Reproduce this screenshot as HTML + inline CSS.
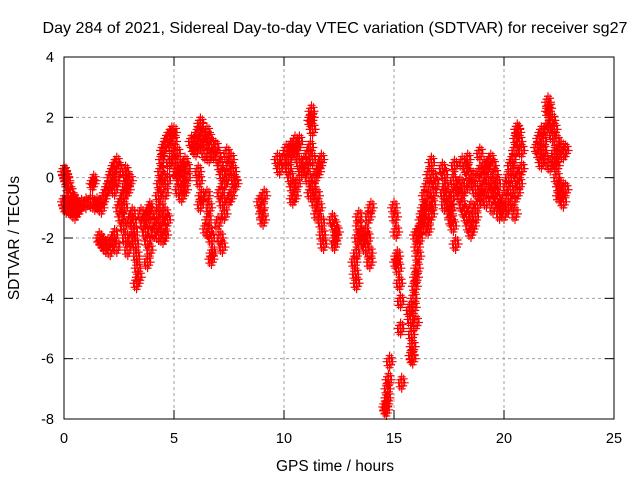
<!DOCTYPE html>
<html><head><meta charset="utf-8"><style>
body{margin:0;background:#fff}
svg{display:block;font-family:"Liberation Sans",sans-serif}
</style></head><body>
<svg id="c" width="640" height="480">
<text x="335" y="33" font-size="16" text-anchor="middle" textLength="585" lengthAdjust="spacingAndGlyphs">Day 284 of 2021, Sidereal Day-to-day VTEC variation (SDTVAR) for receiver sg27</text>
<text x="335" y="471" font-size="15.5" text-anchor="middle">GPS time / hours</text>
<text x="19" y="238" font-size="15.5" text-anchor="middle" transform="rotate(-90 19 238)">SDTVAR / TECUs</text>
<g id="grid"></g>
<g id="ticks"></g>
<g id="pts"></g>
<rect x="64" y="57" width="550" height="362" fill="none" stroke="#000" stroke-width="1"/>
</svg>
<script>
const xTicks=[0,5,10,15,20,25];
const yTicks=[4,2,0,-2,-4,-6,-8];
const hours=[0,0.05,0.1,0.15,0.2,0.3,0.4,0.5,0.6,0.7,0.8,1.0,1.2,1.4,0,0.05,0.1,0.2,0.3,0.4,0.5,0.6,0.7,1.5,1.6,1.7,1.3,1.35,
1.8,1.9,2.0,2.1,2.2,2.3,2.4,2.2,2.3,2.4,2.5,1.6,1.7,1.8,1.9,2.0,2.1,2.2,2.3,2.4,
2.5,2.6,2.7,2.8,2.9,3.0,2.6,2.7,2.8,2.9,2.75,2.8,2.85,2.9,
3.1,3.15,3.2,3.25,3.3,3.35,3.4,3.3,3.0,3.05,
3.5,3.6,3.7,3.8,3.9,3.75,3.85,3.9,3.8,
4.0,4.1,4.2,4.3,4.4,4.5,4.6,4.4,4.2,4.3,4.35,4.4,4.45,4.5,4.6,4.7,4.8,4.9,4.5,4.6,4.7,4.8,4.9,5.0,5.0,4.7,4.6,4.5,
5.1,5.2,5.3,5.4,5.5,5.6,5.2,5.35,5.5,5.6,5.0,5.15,5.3,5.45,
5.8,5.9,6.0,6.1,6.2,6.3,6.4,6.5,6.6,6.7,6.8,6.9,6.0,6.2,6.4,6.6,6.2,6.1,6.15,6.25,6.5,6.6,6.55,6.6,6.7,6.75,6.7,6.2,6.45,
7.0,7.1,7.2,7.3,7.4,7.5,7.6,7.7,7.8,7.1,7.2,7.3,7.0,7.1,7.2,7.6,7.5,7.75,7.4,
8.9,9.0,9.05,9.1,9.0,
9.7,9.8,10.0,10.1,10.2,10.3,10.4,10.5,10.2,10.4,10.5,10.6,10.3,10.7,10.8,10.6,10.4,10.5,10.7,
10.9,11.0,11.1,11.2,11.3,11.1,11.2,11.3,11.4,11.5,11.6,11.7,11.75,11.8,11.25,11.2,11.3,11.25,11.4,11.5,11.6,11.7,11.55,
12.2,12.3,12.35,12.3,12.4,
13.2,13.25,13.3,13.35,13.4,13.4,13.5,13.6,13.7,13.8,13.7,13.9,13.9,13.85,13.95,13.3,
14.6,14.65,14.7,14.7,14.75,14.8,14.65,
15.0,15.05,15.1,15.15,15.2,15.25,15.3,15.3,15.35,15.1,
15.7,15.75,15.8,15.85,15.9,15.95,16.0,16.05,16.1,16.15,16.2,16.25,16.3,16.35,15.8,15.9,16.0,16.05,16.1,16.0,15.85,
16.4,16.5,16.6,16.6,16.7,16.5,16.8,16.9,16.7,16.4,16.55,16.8,16.75,
17.2,17.3,17.35,17.4,17.5,17.55,17.6,17.7,17.25,17.3,17.6,17.7,17.8,17.75,17.7,
17.9,18.0,18.1,18.2,18.3,18.4,18.5,18.6,18.5,18.7,18.8,18.9,18.4,18.3,18.1,18.0,18.2,18.6,18.7,18.35,18.45,
18.9,19.0,19.1,19.2,19.3,19.4,19.5,19.6,19.7,19.8,19.5,19.6,19.0,19.2,19.4,19.3,19.5,19.1,18.9,19.7,
19.8,19.9,20.0,20.1,20.2,20.3,20.4,20.3,20.4,20.5,20.6,20.2,20.0,20.5,20.6,20.5,20.55,20.6,20.65,20.7,20.8,20.8,20.7,
21.5,21.6,21.7,21.8,21.9,22.0,22.0,22.05,22.1,22.2,22.3,22.4,22.5,22.6,22.7,22.8,21.6,21.7,21.9,22.1,22.3,22.4,22.4,22.5,22.6,22.7,22.6,22.8,22.5,21.8,22.2,22.3];
const values=[0.2,0.1,0,-0.1,-0.3,-0.5,-0.7,-0.8,-0.9,-1.0,-0.9,-0.85,-0.8,-0.9,-0.8,-0.9,-1.0,-1.0,-1.05,-1.1,-1.2,-1.1,-1.0,-0.85,-0.9,-1.0,-0.2,-0.1,
-0.7,-0.5,-0.3,0,0.2,0.4,0.5,-0.2,-0.4,-0.1,0.3,-2.0,-2.1,-2.2,-2.3,-2.2,-2.4,-2.1,-1.9,-2.3,
-1.0,-0.8,-0.6,-0.3,-0.2,-0.1,-1.3,-1.6,-2.0,-2.4,-1.0,0.2,0,-0.4,
-1.2,-1.5,-1.8,-2.2,-2.6,-3.0,-3.3,-3.5,-1.4,-2.0,
-1.2,-1.5,-1.8,-2.1,-2.4,-1.3,-1.1,-1.0,-2.8,
-1.5,-1.8,-1.6,-1.9,-1.4,-1.7,-1.2,-1.0,-1.2,-0.6,-0.2,0.2,0.6,0.9,1.1,1.3,1.4,1.5,0,-0.5,-0.1,0.5,1.0,1.2,1.5,-1.4,-1.9,-2.0,
0.2,0.1,-0.1,0.3,0.5,0.3,-0.4,-0.6,-0.4,0.0,0.6,0.8,0.4,-0.2,
1.2,1.0,1.3,1.5,1.7,1.4,1.2,1.5,1.3,1.1,0.8,1.0,0.9,1.1,0.8,0.7,1.8,0.2,-0.1,-0.6,-0.6,-1.0,-1.4,-1.8,-2.0,-2.5,-2.7,-0.9,-1.7,
0.7,0.4,0.1,-0.2,0.0,0.4,0.6,0.2,-0.2,-0.5,-0.8,-1.2,-1.5,-2.0,-2.3,-0.6,-0.7,-0.1,0.8,
-0.8,-1.2,-1.4,-0.6,-1.0,
0.6,0.3,0.6,0.9,0.3,0.0,-0.3,-0.6,0.6,0.9,1.2,1.0,1.0,0.5,0.2,-0.2,-0.7,0.8,1.2,
0.5,0.3,0.0,-0.5,-0.3,0.8,1.0,0.6,0.0,-0.6,-1.0,-1.5,-1.9,-2.2,2.2,1.9,1.6,2.0,-0.8,-1.2,0.4,0.6,0.2,
-1.4,-1.6,-2.0,-2.2,-1.8,
-2.8,-3.2,-2.5,-2.0,-1.6,-1.3,-1.9,-2.1,-2.3,-2.0,-1.8,-2.5,-2.8,-1.3,-1.0,-3.5,
-7.6,-7.5,-7.3,-7.0,-6.7,-6.1,-7.7,
-1.0,-1.3,-1.8,-2.6,-3.0,-3.5,-4.1,-5.0,-6.8,-2.8,
-4.4,-4.7,-5.2,-5.6,-4.0,-3.6,-3.3,-3.0,-2.6,-2.0,-1.7,-1.4,-1.2,-1.0,-5.9,-4.3,-4.8,-2.3,-1.8,-1.9,-6.0,
-0.6,-0.3,0.1,-0.8,-1.2,-1.5,-0.5,-0.2,0.5,-1.0,-1.7,0.0,-0.9,
0.3,0.1,-0.3,-0.6,-0.9,-1.2,-1.0,-0.5,-0.5,-0.9,-1.4,-1.6,-2.2,0.4,-0.1,
-0.3,-0.6,-0.9,-1.1,-1.3,-1.6,-1.8,-1.6,-1.0,-1.3,-0.9,-0.5,0.1,0.3,0.5,-0.2,-0.4,0.0,-0.4,0.6,-0.2,
0.2,0.0,-0.3,0.3,-0.1,-0.5,-0.3,0.1,-0.7,-0.9,0.4,-0.5,-0.6,-0.8,0.6,0.5,-1.0,0.4,0.8,-0.2,
-1.2,-1.0,-0.7,-0.3,0.0,0.4,0.6,-0.4,-0.8,-1.2,-0.5,-1.0,-1.2,0.2,0.0,0.9,1.3,1.6,1.5,1.2,0.3,0.9,-0.2,
1.0,1.3,1.5,1.2,1.6,2.2,2.5,2.3,1.8,1.4,1.6,1.2,0.9,1.0,0.8,0.9,0.8,0.5,0.6,0.4,0.8,0.4,0.0,-0.3,-0.6,-0.8,-0.3,-0.4,-0.6,0.9,1.9,0.5];
const NS='http://www.w3.org/2000/svg';
const X=h=>64+h*22, Y=v=>57+(4-v)*(362/12);
const grid=document.getElementById('grid'),ticks=document.getElementById('ticks'),pts=document.getElementById('pts');
function mk(tag,attrs,parent){const e=document.createElementNS(NS,tag);for(const k in attrs)e.setAttribute(k,attrs[k]);parent.appendChild(e);return e;}
xTicks.forEach(t=>{const x=X(t);
 if(t>0&&t<25){const g=mk('line',{x1:x,x2:x,y1:57,y2:419,stroke:'#a0a0a0','stroke-dasharray':'3,3'},grid);
 
 }
 mk('line',{x1:x,x2:x,y1:419,y2:410,stroke:'#000'},ticks);mk('line',{x1:x,x2:x,y1:57,y2:66,stroke:'#000'},ticks);
 const l=mk('text',{x:x,y:443,'font-size':14.5,'text-anchor':'middle'},ticks);l.textContent=t;
 
 });
yTicks.forEach(t=>{const y=Y(t);
 if(t>-8&&t<4){const g=mk('line',{x1:64,x2:614,y1:y,y2:y,stroke:'#a0a0a0','stroke-dasharray':'3,3'},grid);
 
 }
 mk('line',{x1:64,x2:73,y1:y,y2:y,stroke:'#000'},ticks);mk('line',{x1:605,x2:614,y1:y,y2:y,stroke:'#000'},ticks);
 const l=mk('text',{x:54,y:y+5,'font-size':14.5,'text-anchor':'end'},ticks);l.textContent=t;
 
 });
let d='';
hours.forEach((h,i)=>{const x=X(h),y=Y(values[i]);
 for(const [dx,dy] of [[0,0],[1.5,3],[-1.5,-3],[0,6],[0,-6],[3,0],[-3,0],[2,-4],[-2,4]]){const cx=x+dx,cy=y+dy;
 d+=`M${cx-4},${cy}H${cx+4}M${cx},${cy-4}V${cy+4}`;}});
const p=mk('path',{d:d,stroke:'#ff0000','stroke-width':1.2,fill:'none'},pts);


</script>
</body></html>
